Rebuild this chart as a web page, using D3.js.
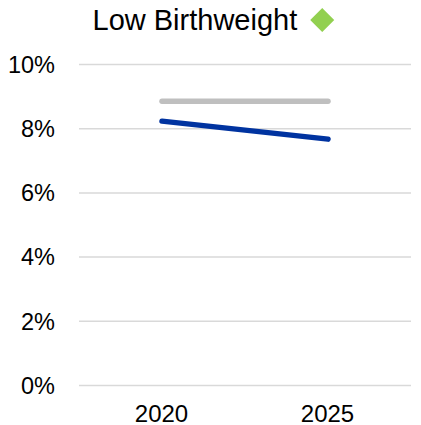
<!DOCTYPE html>
<meta charset="utf-8">
<style>
	body { margin: 0; font-family: "Liberation Sans", Arial, sans-serif; background: #fff; }
	.grid line { stroke: #d9d9d9; stroke-width: 1.5; }
	.grid path { display: none; }
	.axis path, .axis line { display: none; }
	.axis text { fill: #000; font-family: "Liberation Sans", Arial, sans-serif; }
</style>
<body>
<svg id="chart" width="421" height="425"></svg>
<script src="https://cdnjs.cloudflare.com/ajax/libs/d3/7.8.5/d3.min.js"></script>
<script>
	var years = ["2020", "2025"];
	var benchmark = [8.84, 8.84];
	var actual = [8.22, 7.66];
	var yTicks = [0, 2, 4, 6, 8, 10];
	var title = "Low Birthweight";

	var svg = d3.select("#chart"),
	margin = {top: 64, right: 10, bottom: 40, left: 79},
	width = +svg.attr("width"),
	height = +svg.attr("height");

	var x = d3.scalePoint()
	.domain(years)
	.range([margin.left, width - margin.right])
	.padding(0.5);

	var y = d3.scaleLinear()
	.domain([0, 10])
	.range([385, margin.top]);

	// gridlines
	svg.append("g")
	.attr("class", "grid")
	.attr("transform", "translate(" + margin.left + ",0)")
	.call(d3.axisLeft(y).tickValues(yTicks).tickSize(-(width - margin.right - margin.left)).tickFormat(""));

	svg.append("g")
	.attr("class", "axis")
	.attr("transform", "translate(" + (margin.left - 24) + ",0)")
	.call(d3.axisLeft(y).tickValues(yTicks).tickSize(0).tickPadding(0).tickFormat(function(d){ return d + "%"; }))
	.selectAll("text").attr("dy", "0.35em").style("font-size", "23.5px");

	svg.append("g")
	.attr("class", "axis")
	.attr("transform", "translate(-1,385)")
	.call(d3.axisBottom(x).tickSize(0).tickPadding(0))
	.selectAll("text").attr("dy", "1.55em").style("font-size", "24px");

	var line = d3.line()
	.x(function(d, i) { return x(years[i]); })
	.y(function(d) { return y(d); });

	svg.append("path")
	.datum(benchmark)
	.attr("d", line)
	.attr("fill", "none")
	.attr("stroke", "#bfbfbf")
	.attr("stroke-width", 5.5)
	.attr("stroke-linecap", "round");

	svg.append("path")
	.datum(actual)
	.attr("d", line)
	.attr("fill", "none")
	.attr("stroke", "#0033a0")
	.attr("stroke-width", 5.5)
	.attr("stroke-linecap", "round");

	// title + status diamond
	var t = svg.append("text")
	.attr("x", 92.5)
	.attr("y", 30)
	.attr("font-size", 29)
	.attr("fill", "#000")
	.text(title);

	var tw = t.node().getComputedTextLength();
	var cx = 92.5 + tw + 25, cy = 20, s = 12;
	svg.append("path")
	.attr("d", "M" + cx + "," + (cy - s) + "L" + (cx + s) + "," + cy + "L" + cx + "," + (cy + s) + "L" + (cx - s) + "," + cy + "Z")
	.attr("fill", "#92d050");
</script>
</body>
